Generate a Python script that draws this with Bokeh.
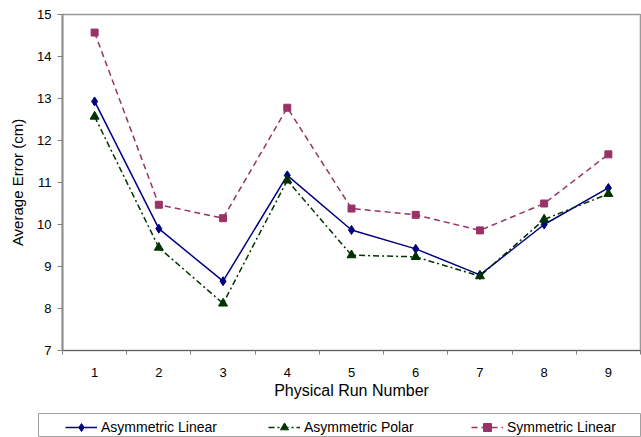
from bokeh.plotting import figure
from bokeh.layouts import column
from bokeh.models import FixedTicker, Legend, LegendItem, Range1d
from bokeh.embed import file_html
from bokeh.resources import INLINE

runs = [1, 2, 3, 4, 5, 6, 7, 8, 9]
asym_linear = [12.93, 9.90, 8.65, 11.17, 9.87, 9.42, 8.80, 10.00, 10.87]
asym_polar = [12.57, 9.45, 8.12, 11.05, 9.27, 9.23, 8.77, 10.12, 10.73]
sym_linear = [14.57, 10.47, 10.15, 12.78, 10.38, 10.23, 9.86, 10.50, 11.67]
y_ticks = [7, 8, 9, 10, 11, 12, 13, 14, 15]
series_names = ["Asymmetric Linear", "Asymmetric Polar", "Symmetric Linear"]

FONT = "Liberation Sans"
BLUE = "#000080"
GREEN = "#003300"
PINK = "#993366"

p = figure(width=641, height=407, output_backend="svg", toolbar_location=None,
           x_range=Range1d(0.5, 9.5), y_range=Range1d(7, 15),
           min_border_left=62, min_border_right=1, min_border_top=14, min_border_bottom=57)
p.frame_align = False
p.background_fill_color = "white"
p.border_fill_color = "white"
p.grid.visible = False
p.outline_line_color = "#999999"
p.outline_line_width = 1.5

p.xaxis.ticker = FixedTicker(ticks=runs, minor_ticks=[r - 0.5 for r in runs] + [runs[-1] + 0.5])
p.xaxis.major_tick_line_alpha = 0
p.xaxis.minor_tick_out = 4
p.xaxis.minor_tick_in = 0
p.xaxis.minor_tick_line_color = "#808080"
p.xaxis.axis_line_color = "#606060"
p.xaxis.axis_line_width = 1
p.xaxis.axis_label = "Physical Run Number"
p.xaxis.axis_label_text_font = FONT
p.xaxis.axis_label_text_font_style = "normal"
p.xaxis.axis_label_text_font_size = "16px"
p.xaxis.axis_label_text_color = "black"
p.xaxis.axis_label_standoff = 2
p.xaxis.major_label_text_font = FONT
p.xaxis.major_label_text_font_size = "13px"
p.xaxis.major_label_text_color = "black"
p.xaxis.major_label_standoff = 11

p.yaxis.ticker = FixedTicker(ticks=y_ticks)
p.yaxis.minor_tick_line_alpha = 0
p.yaxis.major_tick_out = 5
p.yaxis.major_tick_in = 0
p.yaxis.major_tick_line_color = "#808080"
p.yaxis.axis_line_color = "#909090"
p.yaxis.axis_line_width = 2
p.yaxis.axis_label = "Average Error (cm)"
p.yaxis.axis_label_text_font = FONT
p.yaxis.axis_label_text_font_style = "normal"
p.yaxis.axis_label_text_font_size = "15px"
p.yaxis.axis_label_text_color = "black"
p.yaxis.axis_label_standoff = 8
p.yaxis.major_label_text_font = FONT
p.yaxis.major_label_text_font_size = "13px"
p.yaxis.major_label_text_color = "black"
p.yaxis.major_label_standoff = 6

series = [asym_linear, asym_polar, sym_linear]
styles = [(BLUE, None, "diamond", 9), (GREEN, "6 3 2 3", "triangle", 9), (PINK, "6 4", "square", 7)]

for vals, (c, dash, mk, sz) in zip(series, styles):
    kw = dict(line_color=c, line_width=1.5)
    if dash:
        kw["line_dash"] = dash
    p.line(runs, vals, **kw)
    p.scatter(runs, vals, marker=mk, size=sz, fill_color=c, line_color=c)

# legend strip (series re-drawn off-range here so the legend can show their styles)
q = figure(width=641, height=30, output_backend="svg", toolbar_location=None,
           x_range=Range1d(0.5, 9.5), y_range=Range1d(0, 1),
           x_axis_location=None, y_axis_location=None,
           min_border_left=38, min_border_right=0, min_border_top=6, min_border_bottom=0)
q.frame_align = False
q.grid.visible = False
q.outline_line_color = "#a0a0a0"
q.outline_line_width = 1
q.border_fill_color = "white"

items = []
for name, vals, (c, dash, mk, sz) in zip(series_names, series, styles):
    kw = dict(line_color=c, line_width=1.5)
    if dash:
        kw["line_dash"] = dash
    lr = q.line(runs, vals, **kw)
    mr = q.scatter(runs, vals, marker=mk, size=sz - 1, fill_color=c, line_color=c)
    items.append(LegendItem(label=name, renderers=[lr, mr]))

legend = Legend(items=items, orientation="horizontal", location=(25, -2),
                glyph_width=32, glyph_height=20, label_standoff=4, label_width=167,
                spacing=0, padding=2, margin=0,
                label_text_font=FONT, label_text_font_size="14px", label_text_color="black",
                border_line_alpha=0, background_fill_alpha=0)
q.add_layout(legend, "center")

layout = column(p, q, spacing=0)
open("out.html", "w").write(file_html(layout, INLINE))
